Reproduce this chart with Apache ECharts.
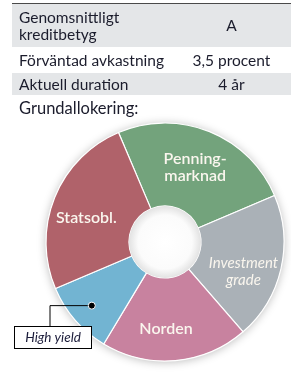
<!DOCTYPE html>
<html lang="sv">
<head>
<meta charset="UTF-8">
<title>Grundallokering</title>
<script src="https://cdn.jsdelivr.net/npm/echarts@6/dist/echarts.min.js"></script>
<style>
    body { margin: 0; background: #fff; }
    #wrap { position: relative; width: 291px; height: 377px; overflow: hidden; font-family: Lato, 'Open Sans', sans-serif; color: #1b1c2c; }
    #main { position: absolute; left: 0; top: 0; width: 291px; height: 377px; }
    #facts { position: absolute; left: 12px; top: 3px; width: 279px; border-top: 1.5px solid #4a4a4a; z-index: 2; }
    .row { display: flex; align-items: center; font-size: 15.5px; line-height: 17px; margin-bottom: 1px; }
    .row .k { flex: 0 0 153px; padding-left: 7px; }
    .row .v { flex: 1; text-align: center; }
    .grey { background: #e4e6e8; }
    #title { position: absolute; left: 19px; top: 98px; font-size: 16.5px; z-index: 2; }
</style>
</head>
<body>
<div id="wrap">
    <div id="main"></div>
    <div id="facts"></div>
    <div id="title">Grundallokering:</div>
</div>
<script type="text/javascript">
    // faktatabell
    var factLabels = ['Genomsnittligt<br>kreditbetyg', 'Förväntad avkastning', 'Aktuell duration'];
    var factValues = ['A', '3,5 procent', '4 år'];

    // fördelning, medurs från Penningmarknad
    var categories = ['Penning-\nmarknad', 'Investment\ngrade', 'Norden', 'High yield', 'Statsobl.'];
    var shares = [25, 20, 20, 10, 25];

    var rowHeights = [43, 24, 22];
    var rowBg = ['grey', '', 'grey'];
    var html = '';
    for (var i = 0; i < factLabels.length; i++) {
        html += '<div class="row ' + rowBg[i] + '" style="height:' + rowHeights[i] + 'px">' +
            '<div class="k">' + factLabels[i] + '</div><div class="v">' + factValues[i] + '</div></div>';
    }
    document.getElementById('facts').innerHTML = html;

    var cx = 165, cy = 242, rIn = 36, rOut = 119;
    var startAngle = 113;

    // punkt för High yield-pilen, mitt i sin sektor
    var total = shares.reduce(function (a, b) { return a + b; }, 0);
    var before = shares[0] + shares[1] + shares[2];
    var midDeg = startAngle - (before + shares[3] / 2) / total * 360;
    var dotR = 97;
    var dotX = cx + dotR * Math.cos(midDeg * Math.PI / 180);
    var dotY = cy - dotR * Math.sin(midDeg * Math.PI / 180);
    var boxX = 14, boxY = 326, boxW = 78, boxH = 23;
    var lineX = 50;

    var labelShift = [[0, 0], [0, 12], [-6, 7], [0, 0], [-4, 6]];

    var myChart = echarts.init(document.getElementById('main'));

    var option = {
        animation: false,
        color: ['#73a37c', '#aab1b7', '#c8829f', '#72b4d2', '#b0626a'],
        graphic: [{
            type: 'circle',
            z: 0,
            shape: { cx: cx, cy: cy, r: rOut },
            style: { fill: '#fff', shadowBlur: 10, shadowColor: 'rgba(0,0,0,0.28)', shadowOffsetY: 1 }
        }, {
            type: 'circle',
            z: 10,
            shape: { cx: cx, cy: cy, r: rIn },
            style: {
                fill: new echarts.graphic.RadialGradient(0.5, 0.5, 0.5, [
                    { offset: 0, color: '#ffffff' },
                    { offset: 0.75, color: '#fbfbfb' },
                    { offset: 1, color: '#e2e2e2' }
                ])
            }
        }, {
            type: 'polyline',
            z: 10,
            shape: { points: [[dotX, dotY], [lineX, dotY], [lineX, boxY]] },
            style: { stroke: '#000', lineWidth: 1, fill: null }
        }, {
            type: 'circle',
            z: 11,
            shape: { cx: dotX, cy: dotY, r: 3.5 },
            style: { fill: '#000', stroke: '#fff', lineWidth: 1 }
        }],
        series: [{
            type: 'pie',
            center: [cx, cy],
            radius: [rIn, rOut],
            startAngle: startAngle,
            clockwise: true,
            z: 5,
            itemStyle: { borderColor: '#fff', borderWidth: 1.2 },
            label: {
                show: true,
                position: 'inside',
                color: '#faf6ee',
                fontFamily: 'Lato',
                fontSize: 16,
                fontWeight: 600,
                lineHeight: 17,
                formatter: '{b}'
            },
            labelLine: { show: false },
            labelLayout: function (params) {
                var i = params.dataIndex;
                if (i === 3) {
                    return { x: boxX + boxW / 2, y: boxY + boxH / 2, align: 'center', verticalAlign: 'middle' };
                }
                return { dx: labelShift[i][0], dy: labelShift[i][1] };
            },
            data: categories.map(function (name, i) {
                var item = { name: name, value: shares[i] };
                if (i === 1) {
                    item.label = { fontStyle: 'italic', fontWeight: 400, fontSize: 15 };
                }
                if (i === 3) {
                    item.label = {
                        color: '#1b1c3a', fontStyle: 'italic', fontWeight: 400, fontSize: 13.5,
                        backgroundColor: '#fff', borderColor: '#000', borderWidth: 1,
                        width: boxW - 2, height: boxH - 2, align: 'center', lineHeight: boxH - 2
                    };
                }
                return item;
            })
        }]
    };

    myChart.setOption(option);
</script>
</body>
</html>
